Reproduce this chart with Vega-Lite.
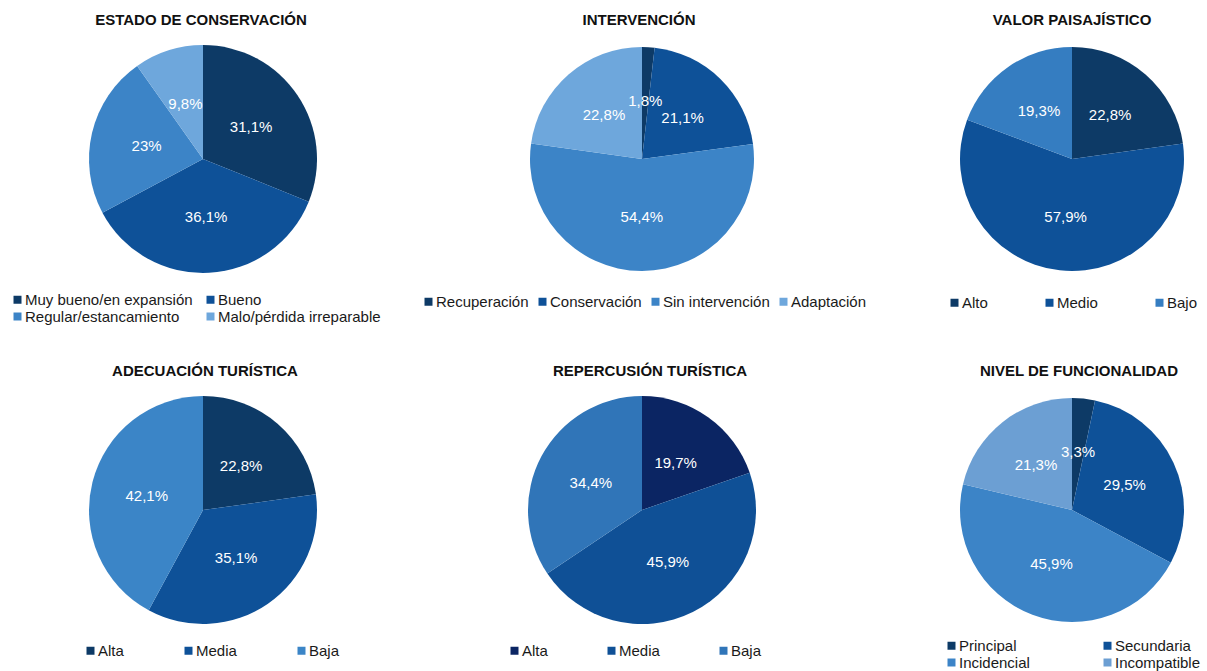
{
  "$schema": "https://vega.github.io/schema/vega-lite/v6.json",
  "padding": {"left": 10, "top": 13, "right": 0, "bottom": 0},
  "autosize": {"type": "pad"},
  "background": "white",
  "bounds": "flush",
  "columns": 3,
  "spacing": {"row": 123, "column": 0},
  "resolve": {"scale": {"color": "independent", "theta": "independent"}, "legend": {"color": "independent"}},
  "config": {
    "view": {"stroke": null},
    "font": "Liberation Sans",
    "title": {"fontSize": 15, "fontWeight": "bold", "color": "#111111", "font": "Liberation Sans", "offset": 17},
    "legend": {"labelFontSize": 15, "labelColor": "#1a1a1a", "labelFont": "Liberation Sans", "labelLimit": 400, "symbolType": "square", "symbolSize": 64, "symbolStrokeWidth": 0, "labelOffset": 0, "padding": 0, "rowPadding": 1, "title": null},
    "locale": {"number": {"decimal": ",", "thousands": ".", "grouping": [3], "currency": ["", " €"]}}
  },
  "datasets": {
    "estado": [
      {"c": "Muy bueno/en expansión", "v": 0.311, "o": 1},
      {"c": "Bueno", "v": 0.361, "o": 2},
      {"c": "Regular/estancamiento", "v": 0.23, "o": 3},
      {"c": "Malo/pérdida irreparable", "v": 0.098, "o": 4}
    ],
    "intervencion": [
      {"c": "Recuperación", "v": 0.018, "o": 1},
      {"c": "Conservación", "v": 0.211, "o": 2},
      {"c": "Sin intervención", "v": 0.544, "o": 3},
      {"c": "Adaptación", "v": 0.228, "o": 4}
    ],
    "paisaje": [
      {"c": "Alto", "v": 0.228, "o": 1},
      {"c": "Medio", "v": 0.579, "o": 2},
      {"c": "Bajo", "v": 0.193, "o": 3}
    ],
    "adecuacion": [
      {"c": "Alta", "v": 0.228, "o": 1},
      {"c": "Media", "v": 0.351, "o": 2},
      {"c": "Baja", "v": 0.421, "o": 3}
    ],
    "repercusion": [
      {"c": "Alta", "v": 0.197, "o": 1},
      {"c": "Media", "v": 0.459, "o": 2},
      {"c": "Baja", "v": 0.344, "o": 3}
    ],
    "funcionalidad": [
      {"c": "Principal", "v": 0.033, "o": 1},
      {"c": "Secundaria", "v": 0.295, "o": 2},
      {"c": "Incidencial", "v": 0.459, "o": 3},
      {"c": "Incompatible", "v": 0.213, "o": 4}
    ]
  },
  "concat": [
    {
      "width": 288, "height": 228,
      "title": {"text": "ESTADO DE CONSERVACIÓN", "dx": -2},
      "data": {"name": "estado"},
      "encoding": {
        "theta": {"field": "v", "type": "quantitative", "stack": true},
        "order": {"field": "o", "type": "quantitative"}
      },
      "layer": [
        {"mark": {"type": "arc", "outerRadius": 114},
         "encoding": {"color": {"field": "c", "type": "nominal",
           "scale": {"domain": ["Muy bueno/en expansión", "Bueno", "Regular/estancamiento", "Malo/pérdida irreparable"], "range": ["#0d3a66", "#0e5198", "#3c84c7", "#6ea7dc"]},
           "legend": {"orient": "none", "legendX": -49, "legendY": 247, "direction": "horizontal", "columns": 2, "columnPadding": 10, "gridAlign": "each"}}}},
        {"mark": {"type": "text", "radius": 58, "fontSize": 15, "font": "Liberation Sans"},
         "encoding": {"text": {"field": "v", "type": "quantitative", "format": ".1~%"}, "detail": {"field": "c"}, "color": {"value": "#ffffff"}}}
      ]
    },
    {
      "width": 590, "height": 228,
      "title": {"text": "INTERVENCIÓN", "dx": -3},
      "data": {"name": "intervencion"},
      "encoding": {
        "theta": {"field": "v", "type": "quantitative", "stack": true},
        "order": {"field": "o", "type": "quantitative"}
      },
      "layer": [
        {"mark": {"type": "arc", "outerRadius": 112},
         "encoding": {"color": {"field": "c", "type": "nominal",
           "scale": {"domain": ["Recuperación", "Conservación", "Sin intervención", "Adaptación"], "range": ["#0d3a66", "#0e5198", "#3c84c7", "#6ea7dc"]},
           "legend": {"orient": "none", "legendX": 74, "legendY": 249, "direction": "horizontal", "columnPadding": 6, "gridAlign": "each"}}}},
        {"mark": {"type": "text", "radius": 58, "fontSize": 15, "font": "Liberation Sans"},
         "encoding": {"text": {"field": "v", "type": "quantitative", "format": ".1~%"}, "detail": {"field": "c"}, "color": {"value": "#ffffff"}}}
      ]
    },
    {
      "width": 270, "height": 228,
      "title": {"text": "VALOR PAISAJÍSTICO"},
      "data": {"name": "paisaje"},
      "encoding": {
        "theta": {"field": "v", "type": "quantitative", "stack": true},
        "order": {"field": "o", "type": "quantitative"}
      },
      "layer": [
        {"mark": {"type": "arc", "outerRadius": 112},
         "encoding": {"color": {"field": "c", "type": "nominal",
           "scale": {"domain": ["Alto", "Medio", "Bajo"], "range": ["#0d3a66", "#0e5198", "#357dc1"]},
           "legend": {"orient": "none", "legendX": 10, "legendY": 250, "direction": "horizontal", "columnPadding": 54, "gridAlign": "each"}}}},
        {"mark": {"type": "text", "radius": 58, "fontSize": 15, "font": "Liberation Sans"},
         "encoding": {"text": {"field": "v", "type": "quantitative", "format": ".1~%"}, "detail": {"field": "c"}, "color": {"value": "#ffffff"}}}
      ]
    },
    {
      "width": 288, "height": 228,
      "title": {"text": "ADECUACIÓN TURÍSTICA", "dx": 2},
      "data": {"name": "adecuacion"},
      "encoding": {
        "theta": {"field": "v", "type": "quantitative", "stack": true},
        "order": {"field": "o", "type": "quantitative"}
      },
      "layer": [
        {"mark": {"type": "arc", "outerRadius": 114},
         "encoding": {"color": {"field": "c", "type": "nominal",
           "scale": {"domain": ["Alta", "Media", "Baja"], "range": ["#0d3a66", "#0e5198", "#3b85c7"]},
           "legend": {"orient": "none", "legendX": 24, "legendY": 247, "direction": "horizontal", "columnPadding": 57, "gridAlign": "each"}}}},
        {"mark": {"type": "text", "radius": 58, "fontSize": 15, "font": "Liberation Sans"},
         "encoding": {"text": {"field": "v", "type": "quantitative", "format": ".1~%"}, "detail": {"field": "c"}, "color": {"value": "#ffffff"}}}
      ]
    },
    {
      "width": 590, "height": 228,
      "title": {"text": "REPERCUSIÓN TURÍSTICA", "dx": 8},
      "data": {"name": "repercusion"},
      "encoding": {
        "theta": {"field": "v", "type": "quantitative", "stack": true},
        "order": {"field": "o", "type": "quantitative"}
      },
      "layer": [
        {"mark": {"type": "arc", "outerRadius": 114},
         "encoding": {"color": {"field": "c", "type": "nominal",
           "scale": {"domain": ["Alta", "Media", "Baja"], "range": ["#0b2563", "#0f5096", "#3075b8"]},
           "legend": {"orient": "none", "legendX": 160, "legendY": 247, "direction": "horizontal", "columnPadding": 56, "gridAlign": "each"}}}},
        {"mark": {"type": "text", "radius": 58, "fontSize": 15, "font": "Liberation Sans"},
         "encoding": {"text": {"field": "v", "type": "quantitative", "format": ".1~%"}, "detail": {"field": "c"}, "color": {"value": "#ffffff"}}}
      ]
    },
    {
      "width": 270, "height": 228,
      "title": {"text": "NIVEL DE FUNCIONALIDAD", "dx": 7},
      "data": {"name": "funcionalidad"},
      "encoding": {
        "theta": {"field": "v", "type": "quantitative", "stack": true},
        "order": {"field": "o", "type": "quantitative"}
      },
      "layer": [
        {"mark": {"type": "arc", "outerRadius": 112},
         "encoding": {"color": {"field": "c", "type": "nominal",
           "scale": {"domain": ["Principal", "Secundaria", "Incidencial", "Incompatible"], "range": ["#0d3a66", "#0e5198", "#3c84c7", "#6c9fd3"]},
           "legend": {"orient": "none", "legendX": 7, "legendY": 242, "direction": "horizontal", "columns": 2, "columnPadding": 70, "gridAlign": "each"}}}},
        {"mark": {"type": "text", "radius": 58, "fontSize": 15, "font": "Liberation Sans"},
         "encoding": {"text": {"field": "v", "type": "quantitative", "format": ".1~%"}, "detail": {"field": "c"}, "color": {"value": "#ffffff"}}}
      ]
    }
  ]
}
